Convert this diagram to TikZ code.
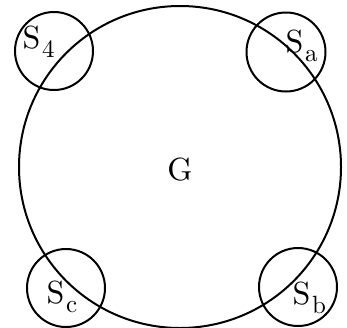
\documentclass[tikz,border=0pt]{standalone}
\newcommand{\lab}[2]{#1\kern0.05em\raisebox{-0.31em}{\scalebox{0.78}{#2}}}
\begin{document}
\begin{tikzpicture}[x=1pt,y=-1pt,
  ring/.style={draw=black,line width=2pt,circle,inner sep=0pt},
  lbl/.style={inner sep=0pt,scale=3.2,anchor=base west}]
\useasboundingbox (0,0) rectangle (347,327);
\fill[white] (0,0) rectangle (347,327);
\node[ring,minimum size=322pt] (G) at (180,167) {};
\node[ring,minimum size=78pt] (s4) at (54,51) {};
\node[ring,minimum size=79pt] (sa) at (286,52) {};
\node[ring,minimum size=78pt] (sc) at (66,288) {};
\node[ring,minimum size=78pt] (sb) at (298,287) {};
\node[lbl,anchor=base] (gl) at (180,180) {G};
\node[lbl] (l4) at (22,48) {\lab{S}{4}};
\node[lbl] (la) at (285,52) {\lab{S}{a}};
\node[lbl] (lc) at (46,303) {\lab{S}{c}};
\node[lbl] (lb) at (292,304) {\lab{S}{b}};
\end{tikzpicture}
\end{document}
